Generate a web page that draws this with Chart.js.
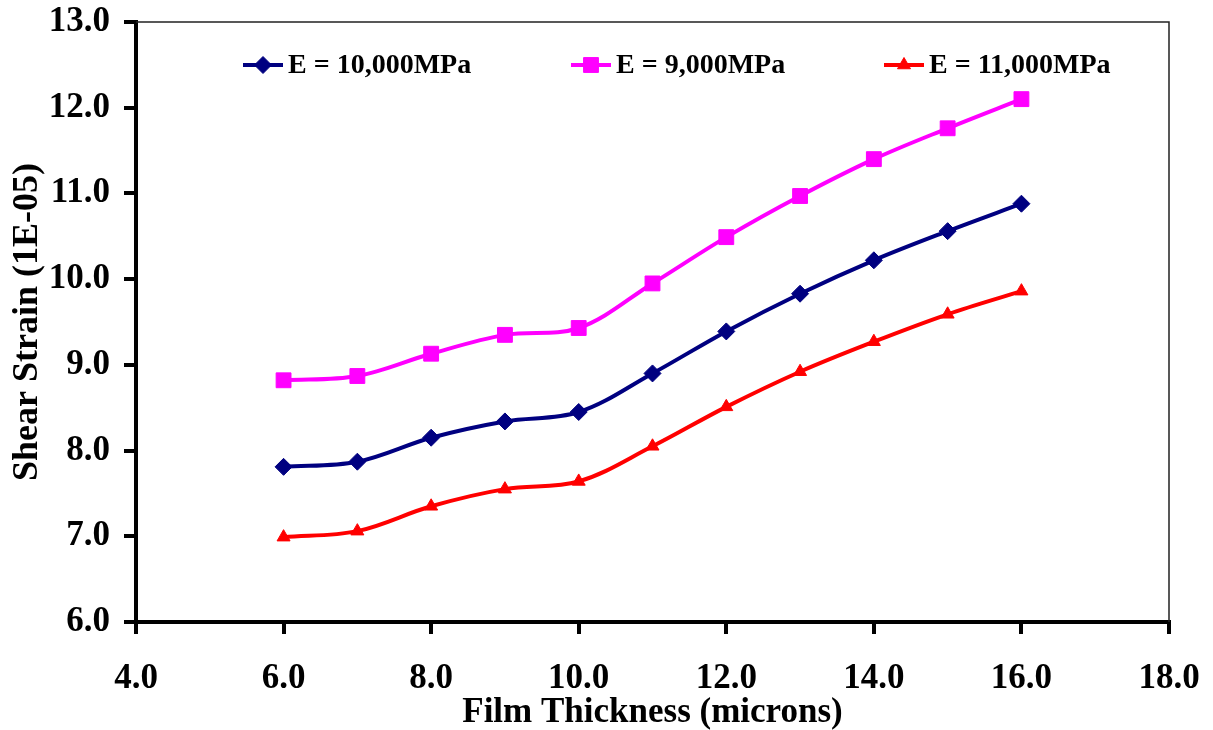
<!DOCTYPE html>
<html>
<head>
<meta charset="utf-8">
<script src="https://cdn.jsdelivr.net/npm/chart.js@4/dist/chart.umd.min.js"></script>
<style>
    html, body { margin: 0; padding: 0; background: #fff; }
    #wrap { width: 1213px; height: 730px; }
</style>
</head>
<body>
<div id="wrap"><canvas id="mainChart" width="1213" height="730"></canvas></div>
<script>
// Film thickness (microns) and shear strain (1E-05) per modulus
const thickness = [6, 7, 8, 9, 10, 11, 12, 13, 14, 15, 16];
const strainE10000 = [7.81, 7.87, 8.15, 8.34, 8.45, 8.90, 9.39, 9.83, 10.22, 10.56, 10.88];
const strainE9000 = [8.82, 8.87, 9.13, 9.35, 9.43, 9.95, 10.49, 10.97, 11.40, 11.76, 12.10];
const strainE11000 = [6.99, 7.06, 7.35, 7.55, 7.64, 8.05, 8.51, 8.92, 9.27, 9.59, 9.86];

const seriesNames = ['E = 10,000MPa', 'E = 9,000MPa', 'E = 11,000MPa'];
const xTicks = [4, 6, 8, 10, 12, 14, 16, 18];
const yTicks = [6, 7, 8, 9, 10, 11, 12, 13];

const FONT = "'Liberation Serif', 'Times New Roman', serif";

const toPoints = (ys) => thickness.map((x, i) => ({ x: x, y: ys[i] }));

const makeSeries = (label, ys, color, style, radius) => ({
    label: label,
    data: toPoints(ys),
    showLine: true,
    borderColor: color,
    backgroundColor: color,
    borderWidth: 4,
    pointStyle: style,
    pointRadius: radius,
    pointBorderWidth: 1,
    pointBackgroundColor: color,
    pointBorderColor: color,
    tension: 0.35
});

// Excel-like legend: short line with marker, then label
const legendPlugin = {
    id: 'excelLegend',
    afterDraw(chart) {
        const ctx = chart.ctx;
        const starts = [243, 571, 884];
        const y = 65;
        ctx.save();
        chart.data.datasets.forEach((ds, i) => {
            const x0 = starts[i];
            ctx.strokeStyle = ds.borderColor;
            ctx.lineWidth = 4;
            ctx.beginPath();
            ctx.moveTo(x0, y);
            ctx.lineTo(x0 + 40, y);
            ctx.stroke();
            ctx.fillStyle = ds.pointBackgroundColor;
            ctx.lineWidth = 1;
            Chart.helpers.drawPoint(ctx, {
                pointStyle: ds.pointStyle,
                radius: ds.pointRadius,
                rotation: 0,
                borderWidth: 1
            }, x0 + 20, y);
            ctx.fillStyle = '#000';
            ctx.font = 'bold 28px ' + FONT;
            ctx.textBaseline = 'middle';
            ctx.textAlign = 'left';
            ctx.fillText(ds.label, x0 + 45, y + 1);
        });
        ctx.restore();
    }
};

// Thin top and right frame lines
const framePlugin = {
    id: 'frame',
    beforeDatasetsDraw(chart) {
        const a = chart.chartArea;
        const ctx = chart.ctx;
        ctx.save();
        ctx.strokeStyle = '#222';
        ctx.lineWidth = 1.5;
        ctx.beginPath();
        ctx.moveTo(a.left, a.top);
        ctx.lineTo(a.right, a.top);
        ctx.lineTo(a.right, a.bottom);
        ctx.stroke();
        ctx.restore();
    }
};

const ctx = document.getElementById('mainChart').getContext('2d');
new Chart(ctx, {
    type: 'scatter',
    data: {
        datasets: [
            makeSeries(seriesNames[0], strainE10000, '#000080', 'rectRot', 8.5),
            makeSeries(seriesNames[1], strainE9000, '#ff00ff', 'rect', 10.5),
            makeSeries(seriesNames[2], strainE11000, '#ff0000', 'triangle', 7.5)
        ]
    },
    options: {
        responsive: false,
        devicePixelRatio: 1,
        animation: false,
        layout: { padding: { top: 22, right: 44, left: 0, bottom: 0 } },
        plugins: {
            legend: { display: false },
            tooltip: { enabled: false }
        },
        scales: {
            x: {
                type: 'linear',
                min: 4,
                max: 18,
                afterBuildTicks: (axis) => { axis.ticks = xTicks.map(v => ({ value: v })); },
                afterFit: (axis) => {
                    axis.height = 108;
                    axis.paddingLeft = 0;
                    axis.paddingRight = 0;
                },
                border: { display: true, color: '#000', width: 4 },
                grid: { drawOnChartArea: false, color: '#000', lineWidth: 4, tickLength: 12 },
                ticks: {
                    color: '#000',
                    padding: 24,
                    font: { family: FONT, size: 35, weight: 'bold' },
                    callback: (v) => Number(v).toFixed(1)
                },
                title: {
                    display: true,
                    text: 'Film Thickness (microns)',
                    color: '#000',
                    padding: { top: 0, bottom: 0 },
                    font: { family: FONT, size: 35, weight: 'bold', lineHeight: 1.0 }
                }
            },
            y: {
                type: 'linear',
                min: 6,
                max: 13,
                afterBuildTicks: (axis) => { axis.ticks = yTicks.map(v => ({ value: v })); },
                afterFit: (axis) => {
                    axis.width = 136;
                    axis.paddingTop = 0;
                    axis.paddingBottom = 0;
                },
                border: { display: true, color: '#000', width: 4 },
                grid: { drawOnChartArea: false, color: '#000', lineWidth: 4, tickLength: 12 },
                ticks: {
                    color: '#000',
                    padding: 14,
                    font: { family: FONT, size: 35, weight: 'bold' },
                    callback: (v) => Number(v).toFixed(1)
                },
                title: {
                    display: true,
                    text: 'Shear Strain (1E-05)',
                    color: '#000',
                    padding: { top: 6, bottom: 0 },
                    font: { family: FONT, size: 36, weight: 'bold' }
                }
            }
        }
    },
    plugins: [framePlugin, legendPlugin]
});
</script>
</body>
</html>
